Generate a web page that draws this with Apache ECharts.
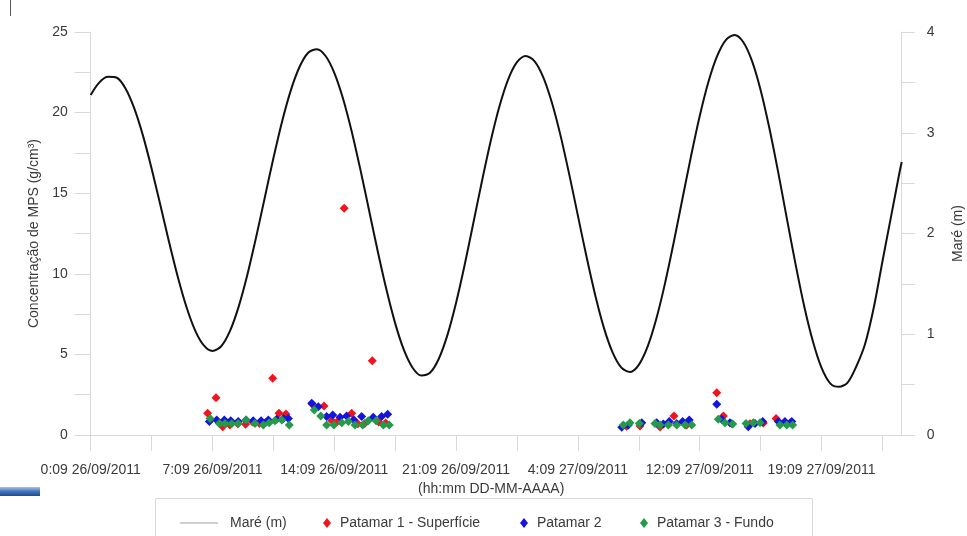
<!DOCTYPE html>
<html><head><meta charset="utf-8">
<script src="https://cdn.jsdelivr.net/npm/echarts@6/dist/echarts.min.js"></script>
<style>html,body{margin:0;padding:0;background:#fff}#c{width:967px;height:536px}</style>
</head><body><div id="c"></div>
<script>
const xTickLabels = ['0:09 26/09/2011','7:09 26/09/2011','14:09 26/09/2011','21:09 26/09/2011','4:09 27/09/2011','12:09 27/09/2011','19:09 27/09/2011'];
const xTickValues = [0,3.5,7,10.5,14,17.5,21,24.5,28,31.5,35,38.5,42,45.5];

const tideHours = [0,0.5,1,1.5,2,2.5,3,3.5,4,4.5,5,5.5,6,6.5,7,7.5,8,8.5,9,9.5,10,10.5,11,11.5,12,12.5,13,13.5,14,14.5,15,15.5,16,16.5,17,17.5,18,18.5,19,19.5,20,20.5,21,21.5,22,22.5,23,23.5,24,24.5,25,25.5,26,26.5,27,27.5,28,28.5,29,29.5,30,30.5,31,31.5,32,32.5,33,33.5,34,34.5,35,35.5,36,36.5,37,37.5,38,38.5,39,39.5,40,40.5,41,41.5,42,42.5,43,43.5,44,44.5,45,45.5,46,46.5,46.61];
const tideMeters = [3.375,3.50,3.555,3.546,3.440,3.244,2.974,2.645,2.285,1.919,1.574,1.273,1.039,0.889,0.834,0.881,1.031,1.272,1.588,1.957,2.353,2.747,3.112,3.421,3.653,3.794,3.830,3.762,3.595,3.340,3.013,2.634,2.229,1.822,1.441,1.108,0.844,0.668,0.590,0.617,0.754,0.991,1.313,1.695,2.111,2.531,2.926,3.268,3.533,3.701,3.762,3.711,3.555,3.303,2.974,2.589,2.177,1.766,1.385,1.061,0.817,0.668,0.626,0.696,0.874,1.148,1.500,1.905,2.337,2.766,3.164,3.503,3.760,3.920,3.970,3.901,3.716,3.425,3.050,2.619,2.158,1.703,1.283,0.933,0.668,0.513,0.478,0.52,0.68,0.90,1.26,1.72,2.17,2.62,2.71];

const p1Hours = [6.72,7.20,7.59,8.00,8.45,8.90,9.30,9.70,10.05,10.46,10.82,11.22,12.75,13.41,13.85,14.20,14.57,15.00,15.35,15.75,16.18,16.55,16.95,30.80,31.57,32.72,33.52,34.25,35.98,36.36,36.84,37.89,38.66,39.39,40.19];
const p1Values = [1.35,2.31,0.51,0.62,0.70,0.66,0.80,0.72,0.78,3.52,1.35,1.30,1.90,1.80,0.90,0.85,14.06,1.35,0.70,0.72,4.61,0.80,0.75,0.55,0.56,0.50,1.18,0.62,2.62,1.18,0.70,0.70,0.75,1.03,0.75];

const p2Hours = [6.82,7.24,7.68,8.05,8.48,8.93,9.34,9.79,10.21,10.69,11.07,11.36,12.70,13.08,13.56,13.91,14.33,14.71,15.12,15.57,16.24,16.72,17.07,30.52,30.90,31.67,32.53,32.91,33.25,33.68,34.02,34.40,35.98,36.26,36.74,37.79,38.18,38.62,39.52,39.90,40.29];
const p2Values = [0.83,0.93,0.93,0.89,0.83,0.93,0.89,0.89,0.93,0.97,1.03,1.03,1.97,1.76,1.14,1.24,1.10,1.18,0.95,1.14,1.10,1.14,1.28,0.48,0.62,0.76,0.76,0.68,0.83,0.72,0.83,0.93,1.90,0.97,0.76,0.51,0.72,0.83,0.83,0.83,0.83];

const p3Hours = [6.86,7.39,7.72,8.10,8.48,8.93,9.44,9.92,10.26,10.59,10.98,11.41,12.85,13.22,13.56,13.98,14.43,14.81,15.19,15.63,15.95,16.40,16.82,17.16,30.61,30.99,31.53,32.43,32.72,33.20,33.68,34.16,34.54,36.07,36.45,36.90,37.66,38.08,38.47,39.61,40.00,40.34];
const p3Values = [1.03,0.72,0.72,0.70,0.72,0.93,0.72,0.62,0.76,0.89,0.93,0.62,1.55,1.18,0.62,0.62,0.76,0.83,0.62,0.62,0.89,0.89,0.62,0.62,0.62,0.76,0.72,0.72,0.62,0.62,0.62,0.62,0.62,0.97,0.76,0.68,0.72,0.76,0.76,0.62,0.62,0.62];

const FONT = 'Liberation Sans, Arial, sans-serif';
const TXT = '#3a3a3a';
const AXC = '#d9d9d9';
const pairs = (h, v) => h.map((x, i) => [x, v[i]]);

const chart = echarts.init(document.getElementById('c'), null, {renderer: 'canvas'});
const textStyle = {fontFamily: FONT, fontSize: 14, color: TXT};

chart.setOption({
  animation: false,
  backgroundColor: '#fff',
  textStyle: {fontFamily: FONT},
  grid: {left: 90.7, right: 65.3, top: 32, bottom: 101, containLabel: false, outerBoundsMode: 'none'},
  xAxis: {
    type: 'value', min: 0, max: 46.61, interval: 3.5,
    axisLine: {show: true, onZero: false, lineStyle: {color: AXC, width: 1}},
    axisTick: {show: true, length: 16, lineStyle: {color: AXC}, customValues: xTickValues},
    axisLabel: {
      margin: 28, fontSize: 14, color: TXT, fontFamily: FONT, hideOverlap: false,
      showMaxLabel: false,
      formatter: function (v) {
        const i = Math.round(v / 7);
        return (Math.abs(v - i * 7) < 1e-6 && i < xTickLabels.length) ? xTickLabels[i] : '';
      }
    },
    splitLine: {show: false},
    name: '(hh:mm DD-MM-AAAA)', nameLocation: 'middle', nameGap: 45,
    nameTextStyle: {fontSize: 14, color: TXT, fontFamily: FONT, padding: [0, 10, 0, 0]}
  },
  yAxis: [{
    type: 'value', min: 0, max: 25, interval: 2.5, position: 'left',
    axisLine: {show: true, lineStyle: {color: AXC}},
    axisTick: {show: true, length: 16, lineStyle: {color: AXC}},
    axisLabel: {margin: 23, fontSize: 14, color: TXT, fontFamily: FONT,
      formatter: v => (Math.abs(v % 5) < 1e-6 ? String(v) : '')},
    splitLine: {show: false},
    name: 'Concentração de MPS (g/cm³)', nameLocation: 'middle', nameGap: 48, nameRotate: 90,
    nameTextStyle: {fontSize: 14, color: TXT, fontFamily: FONT}
  }, {
    type: 'value', min: 0, max: 4, interval: 0.5, position: 'right',
    axisLine: {show: true, lineStyle: {color: AXC}},
    axisTick: {show: true, length: 13, lineStyle: {color: AXC}},
    axisLabel: {margin: 25, fontSize: 14, color: TXT, fontFamily: FONT,
      formatter: v => (Math.abs(v % 1) < 1e-6 ? String(v) : '')},
    splitLine: {show: false},
    name: 'Maré (m)', nameLocation: 'middle', nameGap: 49, nameRotate: 90,
    nameTextStyle: {fontSize: 14, color: TXT, fontFamily: FONT}
  }],
  legend: [
    {data: [{name: 'Maré (m)', icon: 'rect', itemStyle: {color: '#d0d0d0'}}], left: 180, top: 516, padding: 0,
      itemWidth: 38, itemHeight: 2, textStyle: Object.assign({}, textStyle, {padding: [0, 0, 0, 7]})},
    {data: ['Patamar 1 - Superfície'], left: 323, top: 516, padding: 0, itemWidth: 8, itemHeight: 10,
      textStyle: Object.assign({}, textStyle, {padding: [0, 0, 0, 4]})},
    {data: ['Patamar 2'], left: 520, top: 516, padding: 0, itemWidth: 8, itemHeight: 10,
      textStyle: Object.assign({}, textStyle, {padding: [0, 0, 0, 4]})},
    {data: ['Patamar 3 - Fundo'], left: 640, top: 516, padding: 0, itemWidth: 8, itemHeight: 10,
      textStyle: Object.assign({}, textStyle, {padding: [0, 0, 0, 4]})}
  ],
  graphic: [
    {type: 'rect', shape: {x: 155.5, y: 498.5, width: 657, height: 60}, style: {fill: 'none', stroke: '#d9d9d9', lineWidth: 1}, silent: true, z: -1},
    {type: 'rect', shape: {x: 0, y: 487, width: 40, height: 9},
      style: {fill: new echarts.graphic.LinearGradient(0, 0, 0, 1, [{offset: 0, color: '#a9c4e8'}, {offset: 0.5, color: '#3f74bd'}, {offset: 1, color: '#1d4a92'}])}, silent: true},
    {type: 'line', shape: {x1: 10.5, y1: 0, x2: 10.5, y2: 16}, style: {stroke: '#555', lineWidth: 1}, silent: true}
  ],
  series: [
    {name: 'Maré (m)', type: 'line', yAxisIndex: 1, data: pairs(tideHours, tideMeters),
      showSymbol: false, symbol: 'none', smooth: 0.3,
      lineStyle: {color: '#111', width: 2}, itemStyle: {color: '#111'}, z: 2},
    {name: 'Patamar 1 - Superfície', type: 'scatter', yAxisIndex: 0, data: pairs(p1Hours, p1Values),
      symbol: 'diamond', symbolSize: 9, itemStyle: {color: '#f0141e', opacity: 1}, z: 3},
    {name: 'Patamar 2', type: 'scatter', yAxisIndex: 0, data: pairs(p2Hours, p2Values),
      symbol: 'diamond', symbolSize: 9, itemStyle: {color: '#1414dc', opacity: 1}, z: 4},
    {name: 'Patamar 3 - Fundo', type: 'scatter', yAxisIndex: 0, data: pairs(p3Hours, p3Values),
      symbol: 'diamond', symbolSize: 9, itemStyle: {color: '#239b4b', opacity: 1}, z: 5}
  ]
});
</script></body></html>
